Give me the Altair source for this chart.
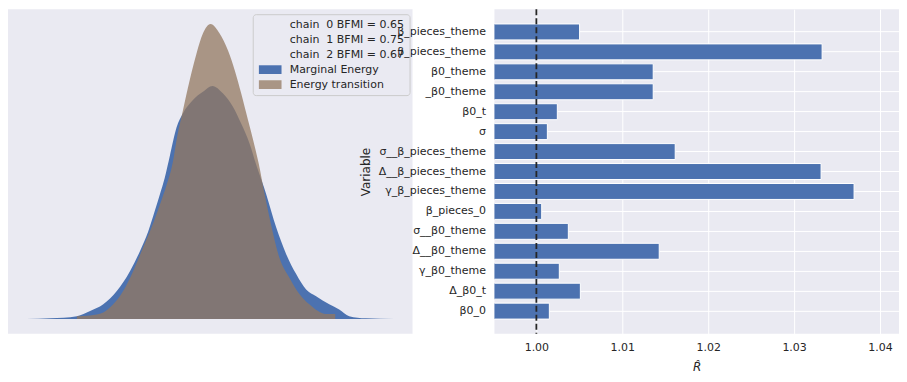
import altair as alt
import pandas as pd

# ---- Left panel: energy densities ----
me_energy = [-4.65, -4.05, -3.38, -3.05, -2.72, -2.38, -2.05, -1.80, -1.59, -1.43,
             -1.30, -1.18, -1.05, -0.88, -0.72, -0.47, -0.22, 0.02, 0.28, 0.53,
             0.74, 0.95, 1.13, 1.37, 1.62, 1.87, 2.12, 2.37, 2.62, 2.95,
             3.20, 3.45, 3.87, 4.58]
me_density = [0.000, 0.001, 0.004, 0.011, 0.020, 0.038, 0.065, 0.092, 0.119, 0.146,
              0.169, 0.191, 0.221, 0.260, 0.279, 0.297, 0.308, 0.316, 0.306, 0.288,
              0.265, 0.238, 0.207, 0.169, 0.124, 0.088, 0.061, 0.040, 0.031, 0.020,
              0.013, 0.004, 0.001, 0.000]

et_energy = [-3.38, -3.05, -2.72, -2.47, -2.22, -1.97, -1.72, -1.51, -1.30, -1.13,
             -0.97, -0.88, -0.72, -0.55, -0.38, -0.22, -0.03, 0.20, 0.41, 0.58,
             0.74, 0.91, 1.08, 1.18, 1.33, 1.49, 1.70, 1.95, 2.20, 2.45,
             2.87, 3.10]
et_density = [0.004, 0.005, 0.009, 0.020, 0.038, 0.065, 0.097, 0.124, 0.155, 0.182,
              0.214, 0.243, 0.283, 0.324, 0.360, 0.387, 0.400, 0.387, 0.364, 0.337,
              0.306, 0.270, 0.234, 0.211, 0.169, 0.128, 0.083, 0.056, 0.034, 0.020,
              0.007, 0.007]

legend_labels = ["chain \u00a00 BFMI = 0.65", "chain \u00a01 BFMI = 0.75",
                 "chain \u00a02 BFMI = 0.67", "Marginal Energy", "Energy transition"]
legend_colors = ["rgba(0,0,0,0)", "rgba(0,0,0,0)", "rgba(0,0,0,0)",
                 "#4C72B0", "rgba(147,120,96,0.75)"]

# ---- Right panel: R-hat per variable ----
variables = ["β_pieces_theme", "β_pieces_theme", "β0_theme", "_β0_theme", "β0_t", "σ",
             "σ__β_pieces_theme", "Δ__β_pieces_theme", "γ_β_pieces_theme", "β_pieces_0",
             "σ__β0_theme", "Δ__β0_theme", "γ_β0_theme", "Δ_β0_t", "β0_0"]
rhat = [1.00503, 1.03326, 1.01360, 1.01360, 1.00244, 1.00128, 1.01616, 1.03314,
        1.03698, 1.00062, 1.00372, 1.01430, 1.00267, 1.00512, 1.00151]
x_ticks = [1.00, 1.01, 1.02, 1.03, 1.04]

TXT = "#262626"

me_df = pd.DataFrame({"energy": me_energy, "density": me_density,
                      "series": "Marginal Energy"})
et_df = pd.DataFrame({"energy": et_energy, "density": et_density,
                      "series": "Energy transition"})

ex = alt.Scale(domain=[-5.11, 5.04], nice=False, zero=False)
ey = alt.Scale(domain=[-0.02, 0.42], nice=False, zero=False)
color = alt.Color(
    "series:N",
    scale=alt.Scale(domain=legend_labels, range=legend_colors),
    legend=alt.Legend(
        title=None, orient="none", legendX=245, legendY=5,
        fillColor="rgba(234,234,242,0)", strokeColor="#cccccc", cornerRadius=3,
        padding=5, labelFontSize=11, labelColor=TXT, labelFont="DejaVu Sans",
        symbolType="M-2.6,-1L2.6,-1L2.6,1L-2.6,1Z", symbolSize=76,
        symbolStrokeWidth=0, symbolOffset=7, labelOffset=14, rowPadding=3,
    ),
)

a1 = alt.Chart(me_df).mark_area(interpolate="monotone").encode(
    x=alt.X("energy:Q", scale=ex, axis=None),
    y=alt.Y("density:Q", scale=ey, axis=None, stack=None),
    color=color,
)
a2 = alt.Chart(et_df).mark_area(interpolate="monotone").encode(
    x=alt.X("energy:Q", scale=ex, axis=None),
    y=alt.Y("density:Q", scale=ey, axis=None, stack=None),
    color=color,
)
left = alt.layer(a1, a2).properties(width=405, height=325)

rdf = pd.DataFrame({"idx": list(range(len(variables))), "rhat": rhat, "base": 0.99})
label_expr = "[" + ",".join("'" + v + "'" for v in variables) + "][datum.value]"
rx = alt.Scale(domain=[0.99512, 1.04221], nice=False, zero=False)

bars = alt.Chart(rdf).mark_bar(color="#4C72B0", stroke="white", strokeWidth=1,
                               clip=True).encode(
    y=alt.Y("idx:O", scale=alt.Scale(paddingInner=0.2, paddingOuter=0.74),
            axis=alt.Axis(title="Variable", labelExpr=label_expr, bandPosition=0.5,
                          grid=True, labelPadding=9, titlePadding=6)),
    x=alt.X("rhat:Q", scale=rx,
            axis=alt.Axis(values=x_ticks, format=".2f", title="R\u0302",
                          titleFontStyle="italic", labelPadding=8, titlePadding=9)),
    x2="base:Q",
)
rule = alt.Chart(pd.DataFrame({"ref": [1.0]})).mark_rule(
    color=TXT, strokeDash=[6, 3], strokeWidth=1.8).encode(
    x=alt.X("ref:Q", scale=rx))
right = alt.layer(bars, rule).properties(width=405, height=325)

chart = alt.hconcat(left, right, spacing=82, bounds="flush").properties(
    padding=0
).configure(font="DejaVu Sans").configure_view(
    fill="#EAEAF2", strokeWidth=0
).configure_axis(
    domain=False, ticks=False, tickSize=0, gridColor="white", gridWidth=1,
    labelFontSize=11, labelColor=TXT, titleFontSize=12, titleColor=TXT,
    titleFontWeight="normal",
)

chart.save("out.html", embed_options={"renderer": "svg", "actions": False})
